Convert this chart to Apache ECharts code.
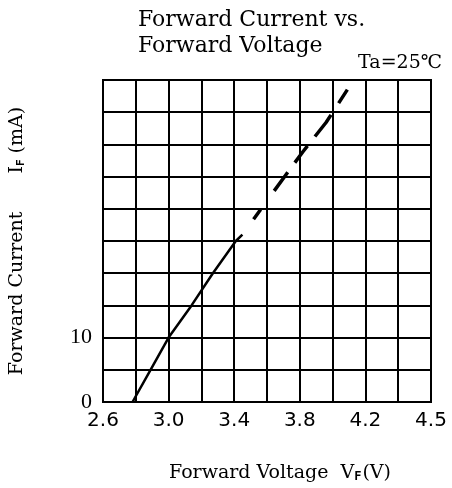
<!DOCTYPE html>
<html>
<head>
<meta charset="utf-8">
<script src="https://cdn.jsdelivr.net/npm/echarts@6/dist/echarts.min.js"></script>
<style>
html,body{margin:0;padding:0;background:#fff;}
#chart{width:452px;height:488px;}
</style>
</head>
<body>
<div id="chart"></div>
<script>
// ---- data ----
const titleLines = ['Forward Current vs.', 'Forward Voltage'];
const conditionText = 'Ta=25℃';
const xMin = 2.6, xMax = 4.6, xStep = 0.2;
const yMin = 0, yMax = 50, yStep = 5;
const xTickLabels = ['2.6', '', '3.0', '', '3.4', '', '3.8', '', '4.2', '', '4.5'];
const yTickLabels = ['0', '', '10', '', '', '', '', '', '', '', ''];
// measured part of the curve (solid)
const solidPoints = [[2.78, 0], [2.89, 5], [3.0, 10], [3.14, 15], [3.27, 20], [3.41, 25], [3.45, 26]];
// extrapolated part of the curve (dashed)
const dashedPoints = [[3.45, 26], [3.71, 35.1], [3.82, 38.9], [3.96, 43.4], [4.09, 48.5]];

const chart = echarts.init(document.getElementById('chart'), null, {renderer: 'canvas'});
const tickIdx = (v, min, step) => Math.round((v - min) / step);

chart.setOption({
  animation: false,
  backgroundColor: '#fff',
  title: [{
    text: titleLines.join('\n'),
    left: 133, top: 2,
    textStyle: {fontFamily: 'DejaVu Serif', fontSize: 22, fontWeight: 'normal', color: '#000', lineHeight: 26}
  }, {
    text: conditionText,
    right: 5, top: 47,
    textStyle: {fontFamily: 'DejaVu Serif', fontSize: 19, fontWeight: 'normal', color: '#000', lineHeight: 22}
  }],
  grid: {left: 103, right: 21, top: 80, bottom: 78, show: true, borderColor: '#000', borderWidth: 2, containLabel: false},
  xAxis: {
    type: 'value', min: xMin, max: xMax, interval: xStep,
    axisLine: {show: true, lineStyle: {color: '#000', width: 2}},
    axisTick: {show: false},
    splitLine: {show: true, lineStyle: {color: '#000', width: 2}},
    axisLabel: {
      showMinLabel: true, showMaxLabel: true, margin: 9,
      fontFamily: 'DejaVu Sans', fontSize: 20, color: '#000',
      formatter: v => xTickLabels[tickIdx(v, xMin, xStep)] || ''
    },
    name: 'Forward Voltage  V{sub|F}(V)',
    nameLocation: 'middle', nameGap: 61,
    nameTextStyle: {
      fontFamily: 'DejaVu Serif', fontSize: 19, color: '#000', padding: [0, 0, 0, 26],
      rich: {sub: {fontFamily: 'DejaVu Sans Mono', fontWeight: 'bold', fontSize: 12, color: '#000', verticalAlign: 'bottom', padding: [8, 1, 0, 0]}}
    }
  },
  yAxis: {
    type: 'value', min: yMin, max: yMax, interval: yStep,
    axisLine: {show: true, lineStyle: {color: '#000', width: 2}},
    axisTick: {show: false},
    splitLine: {show: true, lineStyle: {color: '#000', width: 2}},
    axisLabel: {
      showMinLabel: true, showMaxLabel: true, margin: 11,
      fontFamily: 'Liberation Serif', fontSize: 22, color: '#000',
      formatter: v => yTickLabels[tickIdx(v, yMin, yStep)] || ''
    },
    name: '{a|Forward Current}{gap|}{a|I}{sub|F}{a| (mA)}',
    nameLocation: 'middle', nameGap: 76, nameRotate: 90,
    nameTextStyle: {
      color: '#000', padding: [0, 0, 0, 0],
      rich: {
        a: {fontFamily: 'DejaVu Serif', fontSize: 19, color: '#000'},
        gap: {width: 38},
        sub: {fontFamily: 'DejaVu Sans Mono', fontWeight: 'bold', fontSize: 11, color: '#000', verticalAlign: 'bottom', padding: [8, 0, 0, 0]}
      }
    }
  },
  series: [{
    type: 'line', data: solidPoints, symbol: 'none', silent: true,
    lineStyle: {color: '#000', width: 2.5}
  }, {
    type: 'line', data: dashedPoints, symbol: 'none', silent: true,
    lineStyle: {color: '#000', width: 3.5, type: [0, 19, 12, 23, 23, 12, 21, 12, 27, 14, 26, 60]}
  }]
});
</script>
</body>
</html>
